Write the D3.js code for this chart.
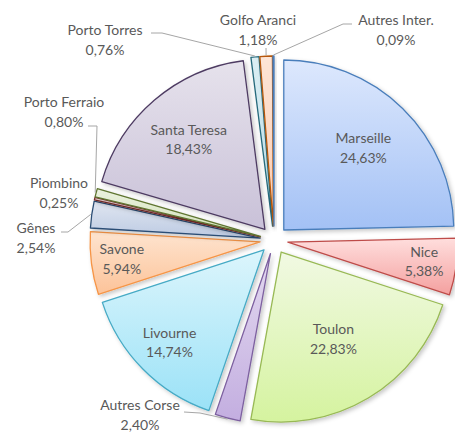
<!DOCTYPE html>
<html>
<head>
<meta charset="utf-8">
<script src="https://cdn.jsdelivr.net/npm/d3@7"></script>
<style>
  html, body { margin: 0; padding: 0; background: #fff; }
  svg { display: block; font-family: Lato, "Open Sans", sans-serif; }
</style>
</head>
<body>
<div id="chart"></div>
<script>
// ports in clockwise order, starting at 12 o'clock
const ports = ["Marseille", "Nice", "Toulon", "Autres Corse", "Livourne", "Savone",
  "Gênes", "Piombino", "Porto Ferraio", "Santa Teresa", "Porto Torres",
  "Golfo Aranci", "Autres Inter."];
const shares = [24.63, 5.38, 22.83, 2.40, 14.74, 5.94, 2.54, 0.25, 0.80, 18.43, 0.76, 1.18, 0.09];

// styling: gradient top, gradient bottom, outline
const topCol = ["#dde8fd", "#ffdedd", "#f1f9e3", "#e3d9f0", "#dcf5fc", "#fee4cf",
  "#e0e6f1", "#f4dcdc", "#eaf1de", "#e6e2ec", "#dbeef3", "#fde5d6", "#dde8fd"];
const botCol = ["#a3c1f5", "#f4a09f", "#d5f39f", "#c3aee0", "#9be2f7", "#fcc399",
  "#bccae2", "#e2b0af", "#d3e2b9", "#c9c1d8", "#b6dde8", "#fbcbb0", "#a3c1f5"];
const lineCol = ["#4a7ebb", "#be4b48", "#98b954", "#7d60a0", "#46aac5", "#f69546",
  "#2c4d75", "#772c2a", "#5f7530", "#4d3b62", "#276a7c", "#b65708", "#4a7ebb"];

// inside labels: distance from slice tip as a fraction of radius
const insideK = { "Marseille": 0.67, "Nice": 0.81, "Toulon": 0.6, "Livourne": 0.78,
  "Savone": 0.82, "Santa Teresa": 0.69 };

// outside labels: text centre, first baseline, leader path (last point = slice edge)
const outside = {
  "Porto Torres": { x: 105, y: 35, lead: [[151, 33], [162, 33]] },
  "Golfo Aranci": { x: 258, y: 25, lead: [[266, 48]] },
  "Autres Inter.": { x: 396, y: 25, lead: [[352, 24], [343, 24]] },
  "Porto Ferraio": { x: 64, y: 107, lead: [[88, 126], [97, 126]] },
  "Piombino": { x: 59, y: 188, lead: null },
  "Gênes": { x: 36, y: 233, lead: [[61, 232], [68, 232]] },
  "Autres Corse": { x: 140, y: 410, lead: [[184, 412], [200, 413]] }
};

const W = 455, H = 432;
const cx = 274, cy = 240, R = 170, explode = 14, lineH = 19.5;

const loc = d3.formatLocale({ decimal: ",", thousands: " ", grouping: [3], currency: ["", "€"] });
const fmt = loc.format(".2f");

const svg = d3.select("#chart").append("svg")
  .attr("width", W).attr("height", H);

const defs = svg.append("defs");
ports.forEach((p, i) => {
  const g = defs.append("linearGradient").attr("id", "grad" + i)
    .attr("x1", 0).attr("y1", 0).attr("x2", 0).attr("y2", 1);
  g.append("stop").attr("offset", "0%").attr("stop-color", topCol[i]);
  g.append("stop").attr("offset", "100%").attr("stop-color", botCol[i]);
});
const f = defs.append("filter").attr("id", "shadow")
  .attr("x", "-20%").attr("y", "-20%").attr("width", "140%").attr("height", "140%");
f.append("feDropShadow").attr("dx", 2).attr("dy", 2).attr("stdDeviation", 2)
  .attr("flood-color", "#000").attr("flood-opacity", 0.22);

const data = ports.map((p, i) => ({ name: p, value: shares[i], i }));
const pie = d3.pie().sort(null).value(d => d.value).startAngle(0).endAngle(2 * Math.PI);
const arcs = pie(data);
const arc = d3.arc().innerRadius(0).outerRadius(R);

const mid = a => (a.startAngle + a.endAngle) / 2;
const tip = a => [cx + explode * Math.sin(mid(a)), cy - explode * Math.cos(mid(a))];

const g = svg.append("g");

g.selectAll("path.slice")
  .data(arcs)
  .join("path")
  .attr("class", "slice")
  .attr("transform", d => `translate(${tip(d)})`)
  .attr("d", arc)
  .attr("fill", d => `url(#grad${d.data.i})`)
  .attr("stroke", d => lineCol[d.data.i])
  .attr("stroke-width", 1.3)
  .attr("stroke-linejoin", "round")
  .attr("filter", "url(#shadow)");

const txtCol = "#595959";
const fs = "14px";

function twoLines(x, y, name, val) {
  const t = svg.append("text")
    .attr("text-anchor", "middle")
    .attr("fill", txtCol)
    .style("font-size", fs);
  t.append("tspan").attr("x", x).attr("y", y).text(name);
  t.append("tspan").attr("x", x).attr("y", y + lineH).text(fmt(val) + "%");
}

arcs.forEach(a => {
  const name = a.data.name;
  const [tx, ty] = tip(a);
  const m = mid(a);
  if (insideK[name] !== undefined) {
    const rr = R * insideK[name];
    const x = tx + rr * Math.sin(m), y = ty - rr * Math.cos(m);
    twoLines(x, y - lineH / 2 + 4.5, name, a.data.value);
  } else {
    const o = outside[name];
    if (o.lead) {
      const edge = [tx + (R + 1) * Math.sin(m), ty - (R + 1) * Math.cos(m)];
      svg.append("path")
        .attr("d", d3.line()(o.lead.concat([edge])))
        .attr("fill", "none")
        .attr("stroke", "#a6a6a6")
        .attr("stroke-width", 1);
    }
    twoLines(o.x, o.y, name, a.data.value);
  }
});
</script>
</body>
</html>
